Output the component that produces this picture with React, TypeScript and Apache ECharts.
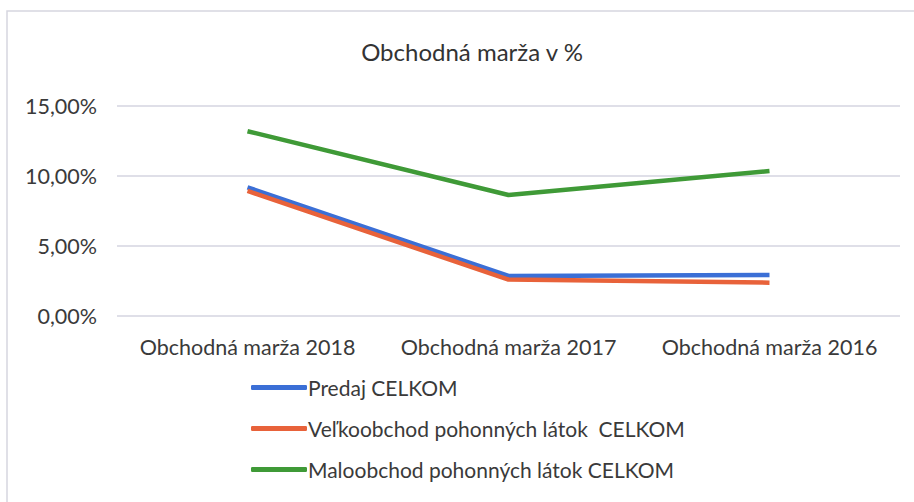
import React, { useEffect, useRef } from "react";
import * as echarts from "echarts";

const categories = ["Obchodná marža 2018", "Obchodná marža 2017", "Obchodná marža 2016"];
const predaj = [9.19, 2.86, 2.93];
const velkoobchod = [8.93, 2.6, 2.38];
const maloobchod = [13.2, 8.64, 10.36];
const seriesNames = [
  "Predaj CELKOM",
  "Veľkoobchod pohonných látok  CELKOM",
  "Maloobchod pohonných látok CELKOM",
];
const colors = ["#3b6fd6", "#e8623a", "#3f9a37"];

export default function App() {
  const ref = useRef<HTMLDivElement>(null);
  useEffect(() => {
    const chart = echarts.init(ref.current!, null, { renderer: "svg" });
    const font = "Lato, 'Open Sans', sans-serif";
    const data = [predaj, velkoobchod, maloobchod];
    chart.setOption({
      animation: false,
      backgroundColor: "#ffffff",
      graphic: [
        {
          type: "rect",
          shape: { x: 7, y: 11, width: 930, height: 520 },
          style: { fill: "none", stroke: "#d6d6e0", lineWidth: 1.5 },
          silent: true,
          z: -1,
        },
      ],
      title: {
        text: "Obchodná marža v %",
        left: 467,
        textAlign: "center",
        top: 34,
        textStyle: { fontFamily: font, fontSize: 24, fontWeight: "normal", color: "#333333" },
      },
      grid: { left: 117, right: 14, top: 106, height: 210 },
      xAxis: {
        type: "category",
        data: categories,
        boundaryGap: true,
        axisLine: { show: false },
        axisTick: { show: false },
        axisLabel: {
          fontFamily: font,
          fontSize: 21.5,
          color: "#3a3a3a",
          margin: 20,
          interval: 0,
          hideOverlap: false,
        },
      },
      yAxis: {
        type: "value",
        min: 0,
        max: 15,
        interval: 5,
        axisLine: { show: false },
        axisTick: { show: false },
        splitLine: { lineStyle: { color: "#d4d4e0", width: 1.5 } },
        axisLabel: {
          fontFamily: font,
          fontSize: 21.5,
          color: "#3a3a3a",
          margin: 20,
          formatter: (v: number) => v.toFixed(2).replace(".", ",") + "%",
        },
      },
      legend: {
        orient: "vertical",
        left: 246,
        top: 372,
        itemGap: 20,
        itemWidth: 56,
        itemHeight: 5,
        icon: "roundRect",
        data: seriesNames,
        textStyle: { fontFamily: font, fontSize: 21, color: "#3a3a3a", padding: [0, 0, 0, -4] },
      },
      series: seriesNames.map((name, i) => ({
        name,
        type: "line",
        data: data[i],
        symbol: "none",
        color: colors[i],
        lineStyle: { width: 4.5, color: colors[i] },
      })),
    });
    return () => chart.dispose();
  }, []);
  return (
    <div
      ref={ref}
      style={{ position: "fixed", left: 0, top: 0, width: 914, height: 502 }}
    />
  );
}
